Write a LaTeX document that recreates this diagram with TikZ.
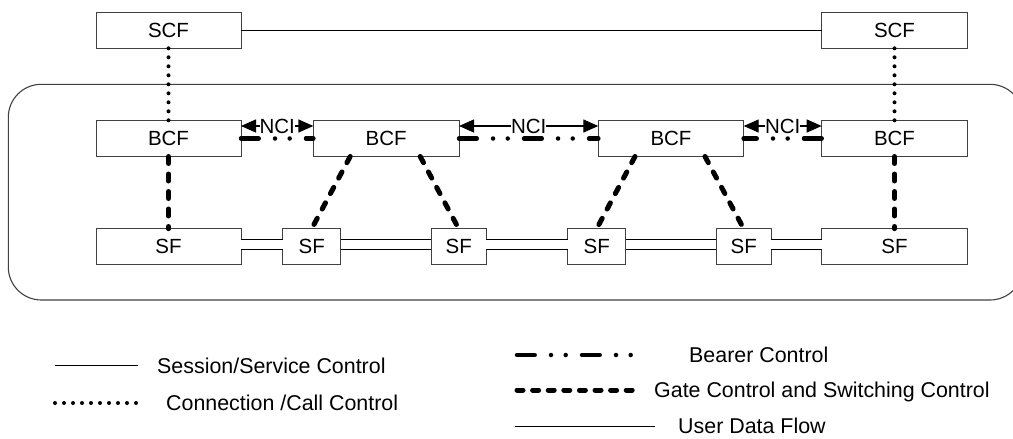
\documentclass[tikz,border=0pt]{standalone}
\usepackage{fontspec}
\setmainfont{Liberation Sans}
\usetikzlibrary{arrows.meta}
\begin{document}
\begin{tikzpicture}[x=1pt,y=-1pt,
  every node/.style={font=\fontsize{20.5}{24}\selectfont},
  legendtext/.style={anchor=base west,inner sep=0pt,font=\fontsize{21.4}{24}\selectfont},
  fbox/.style={draw=black!75,line width=0.9pt,minimum height=36pt,inner sep=0pt,outer sep=0pt},
  sessionline/.style={line width=1.3pt},
  callline/.style={line width=4pt,line cap=round,dash pattern=on 0pt off 9pt},
  bearerline/.style={line width=4.5pt,line cap=round,dash pattern=on 17.7pt off 16.3pt on 0pt off 14.7pt on 0pt off 16.3pt},
  gateline/.style={line width=5pt,line cap=round,dash pattern=on 7pt off 10.5pt},
  dataline/.style={line width=1.3pt,double,double distance=8.7pt},
  nciarrow/.style={line width=1.3pt,{Triangle[length=15pt,width=13pt]}-{Triangle[length=15pt,width=13pt]}},
  ncilabel/.style={fill=white,inner sep=0pt}]
\useasboundingbox (0,0) rectangle (1013,439);
% network boundary
\draw[draw=black!75,line width=1.1pt,rounded corners=33pt] (8.3,84.3) rectangle (1023,300);
% boxes
\node[fbox,minimum width=145pt] (scf1) at (168.5,30.3) {SCF};
\node[fbox,minimum width=145.6pt] (scf2) at (894.5,30.3) {SCF};
\node[fbox,minimum width=145pt] (bcf1) at (168.5,138.5) {BCF};
\node[fbox,minimum width=145.7pt] (bcf2) at (386.2,138.5) {BCF};
\node[fbox,minimum width=145.4pt] (bcf3) at (671,138.5) {BCF};
\node[fbox,minimum width=145.6pt] (bcf4) at (894.5,138.5) {BCF};
\node[fbox,minimum width=145pt] (sf1) at (168.5,246.7) {SF};
\node[fbox,minimum width=58pt] (sf2) at (311.7,246.7) {SF};
\node[fbox,minimum width=54.7pt] (sf3) at (458.7,246.7) {SF};
\node[fbox,minimum width=58pt] (sf4) at (596.7,246.7) {SF};
\node[fbox,minimum width=54.7pt] (sf5) at (743.7,246.7) {SF};
\node[fbox,minimum width=145.6pt] (sf6) at (894.5,246.7) {SF};
% session control
\draw[sessionline] (scf1.east) -- (scf2.west);
% connection/call control
\draw[callline] (scf1.south) -- (bcf1.north);
\draw[callline] (scf2.south) -- (bcf4.north);
% gate control
\draw[gateline] (bcf1.south) -- (sf1.north);
\draw[gateline] (bcf4.south) -- (sf6.north);
\draw[gateline] ([xshift=-36pt]bcf2.south) -- (sf2.north);
\draw[gateline] ([xshift=34pt]bcf2.south) -- (sf3.north);
\draw[gateline] ([xshift=-36pt]bcf3.south) -- (sf4.north);
\draw[gateline] ([xshift=34pt]bcf3.south) -- (sf5.north);
% bearer control
\draw[bearerline] (bcf1.east) -- (bcf2.west);
\draw[bearerline] (bcf2.east) -- (bcf3.west);
\draw[bearerline] (bcf4.west) -- (bcf3.east);
% NCI
\draw[nciarrow] ([yshift=12.5pt]bcf1.east) -- node[ncilabel] (nci1) {NCI} ([yshift=12.5pt]bcf2.west);
\draw[nciarrow] ([yshift=12.5pt]bcf2.east) -- node[ncilabel] (nci2) {NCI} ([yshift=12.5pt]bcf3.west);
\draw[nciarrow] ([yshift=12.5pt]bcf3.east) -- node[ncilabel] (nci3) {NCI} ([yshift=12.5pt]bcf4.west);
% user data flow
\draw[dataline] ([yshift=2.5pt]sf1.east) -- ([yshift=2.5pt]sf2.west);
\draw[dataline] ([yshift=2.5pt]sf2.east) -- ([yshift=2.5pt]sf3.west);
\draw[dataline] ([yshift=2.5pt]sf3.east) -- ([yshift=2.5pt]sf4.west);
\draw[dataline] ([yshift=2.5pt]sf4.east) -- ([yshift=2.5pt]sf5.west);
\draw[dataline] ([yshift=2.5pt]sf5.east) -- ([yshift=2.5pt]sf6.west);
% legend
\coordinate (l1a) at (55,365.7); \coordinate (l1b) at (138,365.7);
\coordinate (l2a) at (55,403); \coordinate (l2b) at (138,403);
\coordinate (l3a) at (517,355); \coordinate (l3b) at (638,355);
\coordinate (l4a) at (517,390); \coordinate (l4b) at (636,390);
\coordinate (l5a) at (515,426.7); \coordinate (l5b) at (655,426.7);
\draw[sessionline] (l1a) -- (l1b);
\draw[callline] (l2a) -- (l2b);
\draw[bearerline] (l3a) -- (l3b);
\draw[gateline,dash pattern=on 6pt off 9.6pt] (l4a) -- (l4b);
\draw[line width=1.3pt] (l5a) -- (l5b);
\node[legendtext] (t1) at (157,373) {Session/Service Control};
\node[legendtext] (t2) at (166,410) {Connection /Call Control};
\node[legendtext] (t3) at (689,362.7) {Bearer Control};
\node[legendtext] (t4) at (654,397.3) {Gate Control and Switching Control};
\node[legendtext] (t5) at (678,433.3) {User Data Flow};
\end{tikzpicture}
\end{document}
